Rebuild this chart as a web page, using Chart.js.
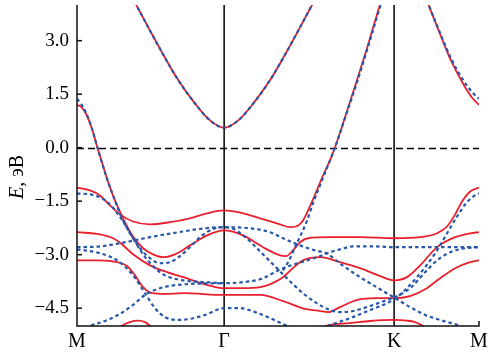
<!DOCTYPE html>
<html>
<head>
<meta charset="utf-8">
<script src="https://cdn.jsdelivr.net/npm/chart.js@4"></script>
<style>
  html, body { margin: 0; padding: 0; background: #fff; }
  canvas { display: block; }
</style>
</head>
<body>
<canvas id="bandChart" width="502" height="354"></canvas>
<script>
// path M -> Γ -> K -> M (units of |ΓM|)
const kTicks = [0, 1, 2.155, 2.732];
const kLabels = ['M', 'Γ', 'K', 'M'];
const eTicks = [-4.5, -3, -1.5, 0, 1.5, 3];

// red solid bands, [k, E]
const redValley = [[0.39,4.1],[0.49,3.33],[0.59,2.58],[0.69,1.88],[0.80,1.25],[0.90,0.78],[1.0,0.56],[1.10,0.78],[1.20,1.25],[1.31,1.88],[1.41,2.58],[1.51,3.33],[1.61,4.1]];
const redA = [[0,1.2],[0.027,1.15],[0.061,0.95],[0.102,0.53],[0.139,0],[0.17,-0.42],[0.204,-0.87],[0.258,-1.48],[0.326,-2.09],[0.381,-2.49],[0.449,-2.82],[0.517,-2.99],[0.585,-3.07],[0.666,-2.99],[0.768,-2.74],[0.884,-2.46],[1.0,-2.32],[1.129,-2.46],[1.264,-2.79],[1.38,-3.02],[1.421,-3.04],[1.468,-2.88],[1.516,-2.65],[1.57,-2.54],[1.72,-2.51],[1.924,-2.51],[2.155,-2.54],[2.332,-2.51],[2.447,-2.40],[2.515,-2.21],[2.57,-1.87],[2.617,-1.51],[2.672,-1.23],[2.732,-1.12]];
const redB = [[0,-1.12],[0.088,-1.2],[0.156,-1.34],[0.224,-1.62],[0.292,-1.87],[0.381,-2.07],[0.496,-2.15],[0.632,-2.09],[0.768,-1.98],[0.884,-1.84],[1.0,-1.76],[1.129,-1.84],[1.244,-1.98],[1.38,-2.15],[1.448,-2.23],[1.489,-2.21],[1.536,-2.04],[1.604,-1.45],[1.672,-0.78],[1.727,-0.28],[1.774,0.25],[1.829,0.95],[1.897,1.82],[1.965,2.71],[2.046,3.83],[2.073,4.19]];
const redC = [[0,-2.37],[0.156,-2.43],[0.245,-2.54],[0.306,-2.71],[0.381,-2.99],[0.496,-3.30],[0.612,-3.49],[0.721,-3.63],[0.87,-3.83],[1.0,-3.94],[1.129,-3.94],[1.244,-3.91],[1.40,-3.63],[1.482,-3.32],[1.536,-3.16],[1.652,-3.07],[1.788,-3.21],[1.924,-3.38],[2.06,-3.60],[2.155,-3.72],[2.243,-3.63],[2.332,-3.30],[2.447,-2.79],[2.57,-2.51],[2.672,-2.40],[2.732,-2.37]];
const redD = [[0,-3.16],[0.156,-3.16],[0.272,-3.21],[0.34,-3.32],[0.394,-3.58],[0.449,-3.91],[0.51,-4.08],[0.598,-4.1],[0.721,-4.08],[1.0,-4.13],[1.244,-4.13],[1.40,-4.30],[1.55,-4.52],[1.652,-4.58],[1.706,-4.61],[1.788,-4.47],[1.904,-4.27],[2.026,-4.22],[2.155,-4.22],[2.264,-4.16],[2.366,-3.97],[2.468,-3.66],[2.57,-3.38],[2.672,-3.21],[2.732,-3.16]];
const redLowL = [[0.258,-5.25],[0.306,-5.0],[0.36,-4.89],[0.415,-4.85],[0.462,-4.89],[0.496,-5.0],[0.544,-5.25]];
const redLowR = [[1.60,-5.25],[1.69,-5.0],[1.856,-4.92],[1.992,-4.86],[2.148,-4.83],[2.243,-4.85],[2.297,-4.89],[2.352,-5.0],[2.40,-5.2]];
const redCondR = [[2.359,4.36],[2.393,3.97],[2.468,3.18],[2.543,2.43],[2.624,1.79],[2.685,1.40],[2.732,1.2]];

// blue dotted bands, [k, E]
const blueValley = [[0.39,4.1],[0.49,3.33],[0.59,2.58],[0.69,1.88],[0.80,1.25],[0.90,0.78],[1.0,0.56],[1.10,0.78],[1.20,1.25],[1.31,1.88],[1.41,2.58],[1.51,3.33],[1.61,4.1]];
const blueCondR = [[2.36,4.3],[2.393,3.97],[2.468,3.21],[2.543,2.49],[2.624,1.9],[2.685,1.56],[2.732,1.37]];
const blue1 = [[0,1.37],[0.027,1.23],[0.061,0.98],[0.102,0.53],[0.139,0],[0.204,-0.87],[0.258,-1.48],[0.306,-1.98],[0.36,-2.40],[0.428,-2.82],[0.496,-3.10],[0.564,-3.24],[0.632,-3.21],[0.70,-3.04],[0.768,-2.79],[0.836,-2.51],[0.918,-2.29],[1.0,-2.23],[1.068,-2.29],[1.129,-2.46],[1.196,-2.71],[1.264,-2.99],[1.332,-3.27],[1.40,-3.55],[1.468,-3.83],[1.536,-4.08],[1.618,-4.33],[1.706,-4.53],[1.788,-4.61],[1.876,-4.58],[1.992,-4.44],[2.107,-4.27],[2.16,-4.19],[2.264,-3.94],[2.366,-3.49],[2.447,-3.16],[2.536,-2.93],[2.638,-2.82],[2.732,-2.79]];
const blue2 = [[0,-1.28],[0.122,-1.34],[0.211,-1.54],[0.265,-1.79],[0.313,-2.07],[0.381,-2.54],[0.449,-2.99],[0.517,-3.32],[0.598,-3.58],[0.721,-3.72],[0.87,-3.77],[1.0,-3.80],[1.129,-3.77],[1.244,-3.69],[1.40,-3.38],[1.564,-3.16],[1.652,-3.04],[1.70,-2.96],[1.788,-2.85],[1.876,-2.77],[2.026,-2.77],[2.155,-2.79],[2.332,-2.79],[2.536,-2.79],[2.732,-2.79]];
const blue3 = [[0,-2.79],[0.156,-2.77],[0.292,-2.68],[0.496,-2.51],[0.721,-2.35],[0.87,-2.26],[1.0,-2.23],[1.176,-2.26],[1.312,-2.37],[1.40,-2.54],[1.516,-2.74],[1.618,-2.88],[1.70,-2.97],[1.788,-3.25],[1.924,-3.63],[2.06,-3.97],[2.162,-4.22],[2.264,-4.47],[2.366,-4.69],[2.468,-4.83],[2.604,-5.0],[2.706,-5.2]];
const blue4 = [[0,-2.85],[0.156,-2.96],[0.272,-3.16],[0.381,-3.58],[0.462,-4.08],[0.53,-4.50],[0.598,-4.75],[0.68,-4.83],[0.768,-4.80],[0.87,-4.69],[1.0,-4.50],[1.108,-4.50],[1.21,-4.61],[1.312,-4.78],[1.414,-4.97],[1.482,-5.11],[1.55,-5.28]];
const blue5 = [[0.02,-5.17],[0.088,-5.0],[0.19,-4.86],[0.292,-4.66],[0.381,-4.41],[0.462,-4.13],[0.564,-3.94],[0.734,-3.83],[1.0,-3.80]];
const blue6 = [[1.584,-5.25],[1.706,-5.0],[1.856,-4.78],[1.992,-4.55],[2.148,-4.27],[2.23,-3.99],[2.311,-3.63],[2.386,-3.24],[2.447,-2.88],[2.515,-2.40],[2.583,-1.93],[2.644,-1.56],[2.692,-1.37],[2.732,-1.28]];
const blue7 = [[1.40,-3.44],[1.441,-3.16],[1.482,-2.79],[1.523,-2.43],[1.564,-2.04],[1.604,-1.56],[1.672,-0.84],[1.727,-0.28],[1.774,0.25],[1.829,0.92],[1.897,1.76],[1.965,2.65],[2.046,3.77],[2.073,4.13]];

const redBands = [redValley, redA, redB, redC, redD, redLowL, redLowR, redCondR];
const blueBands = [blueValley, blueCondR, blue1, blue2, blue3, blue4, blue5, blue6, blue7];

const RED = '#e8202e';
const BLUE = '#2757a8';
const SERIF = '"Liberation Serif", "Times New Roman", serif';

const toXY = arr => arr.map(p => ({ x: p[0], y: p[1] }));

const datasets = [];
blueBands.forEach(b => datasets.push({
    data: toXY(b), borderColor: BLUE, borderWidth: 2.2, borderDash: [3.5, 3],
    pointRadius: 0, cubicInterpolationMode: 'monotone', order: 0
}));
redBands.forEach(b => datasets.push({
    data: toXY(b), borderColor: RED, borderWidth: 1.8,
    pointRadius: 0, cubicInterpolationMode: 'monotone', order: 1
}));

const frame = {
    id: 'frame',
    beforeDraw(chart) {
        const ctx = chart.ctx;
        ctx.save();
        ctx.fillStyle = '#fff';
        ctx.fillRect(0, 0, chart.width, chart.height);
        ctx.restore();
    },
    beforeDatasetsDraw(chart) {
        const { ctx, chartArea: a, scales: { x, y } } = chart;
        ctx.save();
        // Fermi level
        ctx.strokeStyle = '#000';
        ctx.lineWidth = 1.3;
        ctx.setLineDash([7, 4]);
        const y0 = Math.round(y.getPixelForValue(0)) + 0.5;
        ctx.beginPath();
        ctx.moveTo(a.left, y0);
        ctx.lineTo(a.right, y0);
        ctx.stroke();
        // Γ and K
        ctx.setLineDash([]);
        ctx.lineWidth = 1.5;
        [kTicks[1], kTicks[2]].forEach(k => {
            const px = x.getPixelForValue(k);
            ctx.beginPath();
            ctx.moveTo(px, a.top);
            ctx.lineTo(px, a.bottom);
            ctx.stroke();
        });
        ctx.restore();
    },
    afterDraw(chart) {
        const { ctx, chartArea: a, scales: { x, y } } = chart;
        ctx.save();
        ctx.strokeStyle = '#111';
        ctx.lineWidth = 1.5;
        ctx.beginPath();
        ctx.moveTo(a.left, a.top);
        ctx.lineTo(a.left, a.bottom);
        ctx.lineTo(a.right, a.bottom);
        ctx.lineTo(a.right, a.bottom - 5);
        ctx.stroke();
        // inward ticks
        eTicks.forEach(v => {
            const py = y.getPixelForValue(v);
            ctx.beginPath();
            ctx.moveTo(a.left, py);
            ctx.lineTo(a.left + 5, py);
            ctx.stroke();
        });
        // axis title: E, эВ
        ctx.translate(18, 177);
        ctx.rotate(-Math.PI / 2);
        ctx.fillStyle = '#000';
        ctx.textBaseline = 'middle';
        ctx.font = 'italic 20px ' + SERIF;
        const w1 = ctx.measureText('E').width;
        ctx.font = '20px ' + SERIF;
        const w2 = ctx.measureText(', эВ').width;
        let tx = -(w1 + w2) / 2;
        ctx.font = 'italic 20px ' + SERIF;
        ctx.fillText('E', tx, 0);
        ctx.font = '20px ' + SERIF;
        ctx.fillText(', эВ', tx + w1, 0);
        ctx.restore();
    }
};

new Chart(document.getElementById('bandChart'), {
    type: 'line',
    data: { datasets },
    options: {
        responsive: false,
        animation: false,
        devicePixelRatio: 1,
        layout: { padding: { top: 5, right: 23, left: 0, bottom: 0 } },
        plugins: { legend: { display: false }, tooltip: { enabled: false } },
        scales: {
            x: {
                type: 'linear', min: 0, max: kTicks[3],
                grid: { display: false, drawTicks: false }, border: { display: false },
                afterBuildTicks: s => { s.ticks = kTicks.map(v => ({ value: v })); },
                afterFit: s => { s.height = 28; s.paddingLeft = 0; s.paddingRight = 0; },
                ticks: {
                    autoSkip: false, maxRotation: 0, padding: 4, color: '#000',
                    font: { family: SERIF, size: 20 },
                    callback: (v, i) => kLabels[i]
                }
            },
            y: {
                min: -5, max: 4,
                grid: { display: false, drawTicks: false }, border: { display: false },
                afterBuildTicks: s => { s.ticks = eTicks.map(v => ({ value: v })); },
                afterFit: s => { s.width = 77; s.paddingTop = 0; s.paddingBottom = 0; },
                ticks: {
                    padding: 8, color: '#000',
                    font: { family: SERIF, size: 19 },
                    callback: v => (v < 0 ? '−' : '') + Math.abs(v).toFixed(1)
                }
            }
        }
    },
    plugins: [frame]
});
</script>
</body>
</html>
